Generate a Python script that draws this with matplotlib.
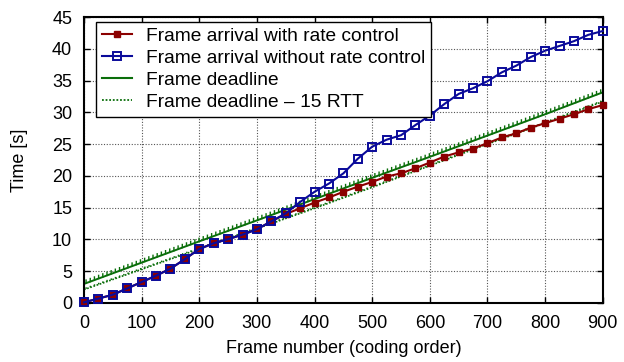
import numpy as np
import matplotlib
matplotlib.use("Agg")
import matplotlib.pyplot as plt
from matplotlib import patheffects as pe
from matplotlib.lines import Line2D

plt.rcParams["font.family"] = ["Liberation Sans", "DejaVu Sans"]

# frame numbers (coding order), one marker every 25 frames
frames = list(range(0, 901, 25))

# frame arrival without rate control [s]
no_rc = [0.1, 0.7, 1.3, 2.3, 3.3, 4.3, 5.4, 6.9, 8.5, 9.4, 10.05, 10.75, 11.6,
         12.85, 14.1, 15.9, 17.5, 18.8, 20.4, 22.7, 24.6, 25.7, 26.4, 28.0,
         29.5, 31.3, 32.9, 33.8, 34.9, 36.3, 37.35, 38.7, 39.7, 40.45, 41.2,
         42.2, 42.8]

# frame arrival with rate control [s]
with_rc = [0.1, 0.7, 1.3, 2.3, 3.3, 4.3, 5.4, 6.9, 8.5, 9.4, 10.05, 10.75, 11.6,
           12.85, 14.0, 14.9, 15.8, 16.6, 17.5, 18.3, 19.05, 19.9, 20.4, 21.2,
           22.1, 23.05, 23.7, 24.3, 25.15, 26.05, 26.7, 27.6, 28.3, 29.0, 29.7,
           30.5, 31.15]

# deadlines, read every 100 frames [s]
dl_frames = [0, 100, 200, 300, 400, 500, 600, 700, 800, 900]
deadline = [3.0, 6.35, 9.7, 13.0, 16.35, 19.7, 23.0, 26.35, 29.7, 33.15]
deadline_rtt = [2.1, 5.3, 8.5, 11.7, 14.9, 18.2, 21.6, 25.0, 28.3, 31.7]

labels = ["Frame arrival with rate control",
          "Frame arrival without rate control",
          "Frame deadline",
          "Frame deadline \u2013 15 RTT"]

red = "#8b0000"
blue = "#0a0a9a"
green = "#0a6e0a"
fs = 13

fig = plt.figure(figsize=(6.24, 3.62), dpi=100)
ax = fig.add_axes([0.1346, 0.163, 0.8314, 0.79])

ax.plot(frames, with_rc, color=red, lw=1.5, marker="s", ms=4.8, mec=red,
        mfc=red, clip_on=False, zorder=3)
ax.plot(frames, no_rc, color=blue, lw=1.5, marker="s", ms=5.5, mfc="none",
        mec=blue, mew=1.4, clip_on=False, zorder=4)
teeth = pe.TickedStroke(spacing=3.2, angle=70, length=0.7, linewidth=1.0,
                        foreground=green)
ax.plot(dl_frames, deadline, color=green, lw=1.4,
        path_effects=[teeth, pe.Normal()], zorder=2)
ax.plot(dl_frames, deadline_rtt, color=green, lw=1.2, ls=(0, (1, 1)),
        path_effects=[teeth, pe.Normal()], zorder=2)

ax.set_xlim(0, 900)
ax.set_ylim(0, 45)
ax.set_xticks(range(0, 901, 100))
ax.set_yticks(range(0, 46, 5))
ax.tick_params(direction="in", length=4, width=1, top=True, right=True,
               labelsize=fs, pad=8.5)
ax.grid(True, color="#555555", ls=(0, (1, 1.5)), lw=0.8)
for s in ax.spines.values():
    s.set_linewidth(1.5)

ax.set_xlabel("Frame number (coding order)", fontsize=fs, labelpad=6)
ax.set_ylabel("Time [s]", fontsize=fs, labelpad=17)

handles = [
    Line2D([], [], color=red, lw=1.5, marker="s", ms=4.8, mfc=red, mec=red),
    Line2D([], [], color=blue, lw=1.5, marker="s", ms=5.5, mfc="none",
           mec=blue, mew=1.4),
    Line2D([], [], color=green, lw=1.5),
    Line2D([], [], color=green, lw=1.3, ls=(0, (1, 1))),
]
leg = ax.legend(handles, labels, loc="upper left",
                bbox_to_anchor=(0.023, 0.983), fontsize=13.75,
                fancybox=False, framealpha=1, edgecolor="black",
                borderpad=0.3, labelspacing=0.24, handlelength=1.6,
                handletextpad=0.7, borderaxespad=0)
leg.get_frame().set_linewidth(1.0)

fig.savefig("out.png", dpi=100)
